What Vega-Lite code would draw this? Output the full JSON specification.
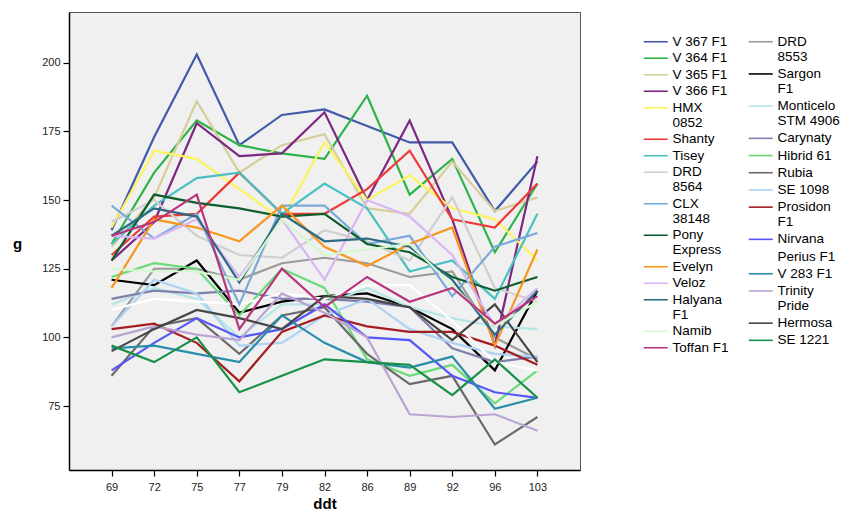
{
  "$schema": "https://vega.github.io/schema/vega-lite/v6.json",
  "width": 511,
  "height": 458,
  "autosize": "none",
  "padding": {"left": 69, "top": 12, "right": 273, "bottom": 44},
  "background": "white",
  "config": {
    "view": {"fill": "#F0F0F0", "stroke": "#555555", "strokeWidth": 1},
    "font": "Liberation Sans",
    "axis": {
      "domainColor": "black", "domainWidth": 1.5, "tickColor": "black", "tickWidth": 1.2, "tickSize": 6,
      "labelFont": "Liberation Sans", "labelFontSize": 11, "labelColor": "#222222",
      "titleFont": "Liberation Sans", "titleFontSize": 15, "titleFontWeight": "bold", "titleColor": "black",
      "grid": false
    },
    "legend": {
      "orient": "none", "title": null, "symbolType": "M -1 0 H 5", "symbolSize": 64, "symbolStrokeWidth": 1.6,
      "labelFont": "Liberation Sans", "labelFontSize": 13.5, "labelColor": "black", "labelLimit": 200,
      "labelOffset": 18, "rowPadding": 1.5, "padding": 0, "legendY": 23
    }
  },
  "data": {"values": [
    {"v":"V 367 F1","x":69,"g":139},{"v":"V 367 F1","x":72,"g":173},{"v":"V 367 F1","x":75,"g":203},{"v":"V 367 F1","x":77,"g":170},{"v":"V 367 F1","x":79,"g":181},{"v":"V 367 F1","x":82,"g":183},{"v":"V 367 F1","x":86,"g":177},{"v":"V 367 F1","x":89,"g":171},{"v":"V 367 F1","x":92,"g":171},{"v":"V 367 F1","x":96,"g":146},{"v":"V 367 F1","x":103,"g":164},
    {"v":"V 364 F1","x":69,"g":134},{"v":"V 364 F1","x":72,"g":160},{"v":"V 364 F1","x":75,"g":179},{"v":"V 364 F1","x":77,"g":170},{"v":"V 364 F1","x":79,"g":167},{"v":"V 364 F1","x":82,"g":165},{"v":"V 364 F1","x":86,"g":188},{"v":"V 364 F1","x":89,"g":152},{"v":"V 364 F1","x":92,"g":165},{"v":"V 364 F1","x":96,"g":131},{"v":"V 364 F1","x":103,"g":156},
    {"v":"V 365 F1","x":69,"g":133},{"v":"V 365 F1","x":72,"g":151},{"v":"V 365 F1","x":75,"g":186},{"v":"V 365 F1","x":77,"g":160},{"v":"V 365 F1","x":79,"g":170},{"v":"V 365 F1","x":82,"g":174},{"v":"V 365 F1","x":86,"g":147},{"v":"V 365 F1","x":89,"g":145},{"v":"V 365 F1","x":92,"g":164},{"v":"V 365 F1","x":96,"g":146},{"v":"V 365 F1","x":103,"g":151},
    {"v":"V 366 F1","x":69,"g":128},{"v":"V 366 F1","x":72,"g":142},{"v":"V 366 F1","x":75,"g":178},{"v":"V 366 F1","x":77,"g":166},{"v":"V 366 F1","x":79,"g":167},{"v":"V 366 F1","x":82,"g":182},{"v":"V 366 F1","x":86,"g":150},{"v":"V 366 F1","x":89,"g":179},{"v":"V 366 F1","x":92,"g":143},{"v":"V 366 F1","x":96,"g":97},{"v":"V 366 F1","x":103,"g":166},
    {"v":"HMX 0852","x":69,"g":140},{"v":"HMX 0852","x":72,"g":168},{"v":"HMX 0852","x":75,"g":165},{"v":"HMX 0852","x":77,"g":154},{"v":"HMX 0852","x":79,"g":143},{"v":"HMX 0852","x":82,"g":171},{"v":"HMX 0852","x":86,"g":150},{"v":"HMX 0852","x":89,"g":159},{"v":"HMX 0852","x":92,"g":147},{"v":"HMX 0852","x":96,"g":143},{"v":"HMX 0852","x":103,"g":128},
    {"v":"Shanty","x":69,"g":130},{"v":"Shanty","x":72,"g":144},{"v":"Shanty","x":75,"g":145},{"v":"Shanty","x":77,"g":160},{"v":"Shanty","x":79,"g":145},{"v":"Shanty","x":82,"g":145},{"v":"Shanty","x":86,"g":154},{"v":"Shanty","x":89,"g":168},{"v":"Shanty","x":92,"g":143},{"v":"Shanty","x":96,"g":140},{"v":"Shanty","x":103,"g":156},
    {"v":"Tisey","x":69,"g":134},{"v":"Tisey","x":72,"g":148},{"v":"Tisey","x":75,"g":158},{"v":"Tisey","x":77,"g":160},{"v":"Tisey","x":79,"g":145},{"v":"Tisey","x":82,"g":156},{"v":"Tisey","x":86,"g":147},{"v":"Tisey","x":89,"g":124},{"v":"Tisey","x":92,"g":128},{"v":"Tisey","x":96,"g":114},{"v":"Tisey","x":103,"g":145},
    {"v":"DRD 8564","x":69,"g":142},{"v":"DRD 8564","x":72,"g":150},{"v":"DRD 8564","x":75,"g":137},{"v":"DRD 8564","x":77,"g":130},{"v":"DRD 8564","x":79,"g":129},{"v":"DRD 8564","x":82,"g":139},{"v":"DRD 8564","x":86,"g":135},{"v":"DRD 8564","x":89,"g":128},{"v":"DRD 8564","x":92,"g":151},{"v":"DRD 8564","x":96,"g":118},{"v":"DRD 8564","x":103,"g":113},
    {"v":"CLX 38148","x":69,"g":148},{"v":"CLX 38148","x":72,"g":136},{"v":"CLX 38148","x":75,"g":145},{"v":"CLX 38148","x":77,"g":112},{"v":"CLX 38148","x":79,"g":148},{"v":"CLX 38148","x":82,"g":148},{"v":"CLX 38148","x":86,"g":134},{"v":"CLX 38148","x":89,"g":137},{"v":"CLX 38148","x":92,"g":115},{"v":"CLX 38148","x":96,"g":133},{"v":"CLX 38148","x":103,"g":138},
    {"v":"Pony Express","x":69,"g":128},{"v":"Pony Express","x":72,"g":152},{"v":"Pony Express","x":75,"g":149},{"v":"Pony Express","x":77,"g":147},{"v":"Pony Express","x":79,"g":144},{"v":"Pony Express","x":82,"g":145},{"v":"Pony Express","x":86,"g":134},{"v":"Pony Express","x":89,"g":131},{"v":"Pony Express","x":92,"g":122},{"v":"Pony Express","x":96,"g":117},{"v":"Pony Express","x":103,"g":122},
    {"v":"Evelyn","x":69,"g":118},{"v":"Evelyn","x":72,"g":143},{"v":"Evelyn","x":75,"g":140},{"v":"Evelyn","x":77,"g":135},{"v":"Evelyn","x":79,"g":148},{"v":"Evelyn","x":82,"g":133},{"v":"Evelyn","x":86,"g":126},{"v":"Evelyn","x":89,"g":134},{"v":"Evelyn","x":92,"g":140},{"v":"Evelyn","x":96,"g":97},{"v":"Evelyn","x":103,"g":132},
    {"v":"Veloz","x":69,"g":137},{"v":"Veloz","x":72,"g":136},{"v":"Veloz","x":75,"g":143},{"v":"Veloz","x":77,"g":122},{"v":"Veloz","x":79,"g":143},{"v":"Veloz","x":82,"g":121},{"v":"Veloz","x":86,"g":150},{"v":"Veloz","x":89,"g":144},{"v":"Veloz","x":92,"g":130},{"v":"Veloz","x":96,"g":104},{"v":"Veloz","x":103,"g":118},
    {"v":"Halyana F1","x":69,"g":137},{"v":"Halyana F1","x":72,"g":147},{"v":"Halyana F1","x":75,"g":144},{"v":"Halyana F1","x":77,"g":120},{"v":"Halyana F1","x":79,"g":145},{"v":"Halyana F1","x":82,"g":135},{"v":"Halyana F1","x":86,"g":136},{"v":"Halyana F1","x":89,"g":133},{"v":"Halyana F1","x":92,"g":121},{"v":"Halyana F1","x":96,"g":101},{"v":"Halyana F1","x":103,"g":117},
    {"v":"Namib","x":69,"g":125},{"v":"Namib","x":72,"g":124},{"v":"Namib","x":75,"g":124},{"v":"Namib","x":77,"g":121},{"v":"Namib","x":79,"g":143},{"v":"Namib","x":82,"g":130},{"v":"Namib","x":86,"g":132},{"v":"Namib","x":89,"g":134},{"v":"Namib","x":92,"g":119},{"v":"Namib","x":96,"g":104},{"v":"Namib","x":103,"g":113},
    {"v":"Toffan F1","x":69,"g":137},{"v":"Toffan F1","x":72,"g":142},{"v":"Toffan F1","x":75,"g":152},{"v":"Toffan F1","x":77,"g":103},{"v":"Toffan F1","x":79,"g":125},{"v":"Toffan F1","x":82,"g":111},{"v":"Toffan F1","x":86,"g":122},{"v":"Toffan F1","x":89,"g":113},{"v":"Toffan F1","x":92,"g":118},{"v":"Toffan F1","x":96,"g":105},{"v":"Toffan F1","x":103,"g":115},
    {"v":"DRD 8553","x":69,"g":104},{"v":"DRD 8553","x":72,"g":125},{"v":"DRD 8553","x":75,"g":125},{"v":"DRD 8553","x":77,"g":121},{"v":"DRD 8553","x":79,"g":127},{"v":"DRD 8553","x":82,"g":129},{"v":"DRD 8553","x":86,"g":127},{"v":"DRD 8553","x":89,"g":122},{"v":"DRD 8553","x":92,"g":124},{"v":"DRD 8553","x":96,"g":100},{"v":"DRD 8553","x":103,"g":92},
    {"v":"Sargon F1","x":69,"g":121},{"v":"Sargon F1","x":72,"g":119},{"v":"Sargon F1","x":75,"g":128},{"v":"Sargon F1","x":77,"g":109},{"v":"Sargon F1","x":79,"g":113},{"v":"Sargon F1","x":82,"g":115},{"v":"Sargon F1","x":86,"g":116},{"v":"Sargon F1","x":89,"g":111},{"v":"Sargon F1","x":92,"g":103},{"v":"Sargon F1","x":96,"g":88},{"v":"Sargon F1","x":103,"g":117},
    {"v":"Monticelo STM 4906","x":69,"g":112},{"v":"Monticelo STM 4906","x":72,"g":118},{"v":"Monticelo STM 4906","x":75,"g":114},{"v":"Monticelo STM 4906","x":77,"g":100},{"v":"Monticelo STM 4906","x":79,"g":112},{"v":"Monticelo STM 4906","x":82,"g":112},{"v":"Monticelo STM 4906","x":86,"g":118},{"v":"Monticelo STM 4906","x":89,"g":111},{"v":"Monticelo STM 4906","x":92,"g":107},{"v":"Monticelo STM 4906","x":96,"g":104},{"v":"Monticelo STM 4906","x":103,"g":103},
    {"v":"Carynaty","x":69,"g":114},{"v":"Carynaty","x":72,"g":117},{"v":"Carynaty","x":75,"g":116},{"v":"Carynaty","x":77,"g":117},{"v":"Carynaty","x":79,"g":114},{"v":"Carynaty","x":82,"g":114},{"v":"Carynaty","x":86,"g":113},{"v":"Carynaty","x":89,"g":111},{"v":"Carynaty","x":92,"g":96},{"v":"Carynaty","x":96,"g":91},{"v":"Carynaty","x":103,"g":93},
    {"v":"Hibrid 61","x":69,"g":122},{"v":"Hibrid 61","x":72,"g":127},{"v":"Hibrid 61","x":75,"g":125},{"v":"Hibrid 61","x":77,"g":108},{"v":"Hibrid 61","x":79,"g":125},{"v":"Hibrid 61","x":82,"g":118},{"v":"Hibrid 61","x":86,"g":92},{"v":"Hibrid 61","x":89,"g":86},{"v":"Hibrid 61","x":92,"g":90},{"v":"Hibrid 61","x":96,"g":76},{"v":"Hibrid 61","x":103,"g":88},
    {"v":"Rubia","x":69,"g":86},{"v":"Rubia","x":72,"g":104},{"v":"Rubia","x":75,"g":107},{"v":"Rubia","x":77,"g":94},{"v":"Rubia","x":79,"g":108},{"v":"Rubia","x":82,"g":111},{"v":"Rubia","x":86,"g":94},{"v":"Rubia","x":89,"g":83},{"v":"Rubia","x":92,"g":86},{"v":"Rubia","x":96,"g":61},{"v":"Rubia","x":103,"g":71},
    {"v":"SE 1098","x":69,"g":104},{"v":"SE 1098","x":72,"g":121},{"v":"SE 1098","x":75,"g":116},{"v":"SE 1098","x":77,"g":97},{"v":"SE 1098","x":79,"g":98},{"v":"SE 1098","x":82,"g":108},{"v":"SE 1098","x":86,"g":114},{"v":"SE 1098","x":89,"g":103},{"v":"SE 1098","x":92,"g":98},{"v":"SE 1098","x":96,"g":94},{"v":"SE 1098","x":103,"g":93},
    {"v":"Prosidon F1","x":69,"g":103},{"v":"Prosidon F1","x":72,"g":105},{"v":"Prosidon F1","x":75,"g":98},{"v":"Prosidon F1","x":77,"g":84},{"v":"Prosidon F1","x":79,"g":102},{"v":"Prosidon F1","x":82,"g":108},{"v":"Prosidon F1","x":86,"g":104},{"v":"Prosidon F1","x":89,"g":102},{"v":"Prosidon F1","x":92,"g":102},{"v":"Prosidon F1","x":96,"g":97},{"v":"Prosidon F1","x":103,"g":90},
    {"v":"Nirvana","x":69,"g":88},{"v":"Nirvana","x":72,"g":98},{"v":"Nirvana","x":75,"g":107},{"v":"Nirvana","x":77,"g":100},{"v":"Nirvana","x":79,"g":103},{"v":"Nirvana","x":82,"g":112},{"v":"Nirvana","x":86,"g":100},{"v":"Nirvana","x":89,"g":99},{"v":"Nirvana","x":92,"g":86},{"v":"Nirvana","x":96,"g":80},{"v":"Nirvana","x":103,"g":78},
    {"v":"Perius F1","x":69,"g":110},{"v":"Perius F1","x":72,"g":114},{"v":"Perius F1","x":75,"g":113},{"v":"Perius F1","x":77,"g":112},{"v":"Perius F1","x":79,"g":116},{"v":"Perius F1","x":82,"g":114},{"v":"Perius F1","x":86,"g":119},{"v":"Perius F1","x":89,"g":119},{"v":"Perius F1","x":92,"g":106},{"v":"Perius F1","x":96,"g":91},{"v":"Perius F1","x":103,"g":88},
    {"v":"V 283 F1","x":69,"g":96},{"v":"V 283 F1","x":72,"g":97},{"v":"V 283 F1","x":75,"g":94},{"v":"V 283 F1","x":77,"g":91},{"v":"V 283 F1","x":79,"g":108},{"v":"V 283 F1","x":82,"g":98},{"v":"V 283 F1","x":86,"g":91},{"v":"V 283 F1","x":89,"g":89},{"v":"V 283 F1","x":92,"g":93},{"v":"V 283 F1","x":96,"g":74},{"v":"V 283 F1","x":103,"g":78},
    {"v":"Trinity Pride","x":69,"g":100},{"v":"Trinity Pride","x":72,"g":104},{"v":"Trinity Pride","x":75,"g":101},{"v":"Trinity Pride","x":77,"g":99},{"v":"Trinity Pride","x":79,"g":116},{"v":"Trinity Pride","x":82,"g":109},{"v":"Trinity Pride","x":86,"g":100},{"v":"Trinity Pride","x":89,"g":72},{"v":"Trinity Pride","x":92,"g":71},{"v":"Trinity Pride","x":96,"g":72},{"v":"Trinity Pride","x":103,"g":66},
    {"v":"Hermosa","x":69,"g":95},{"v":"Hermosa","x":72,"g":103},{"v":"Hermosa","x":75,"g":110},{"v":"Hermosa","x":77,"g":107},{"v":"Hermosa","x":79,"g":103},{"v":"Hermosa","x":82,"g":115},{"v":"Hermosa","x":86,"g":114},{"v":"Hermosa","x":89,"g":111},{"v":"Hermosa","x":92,"g":99},{"v":"Hermosa","x":96,"g":112},{"v":"Hermosa","x":103,"g":91},
    {"v":"SE 1221","x":69,"g":97},{"v":"SE 1221","x":72,"g":91},{"v":"SE 1221","x":75,"g":100},{"v":"SE 1221","x":77,"g":80},{"v":"SE 1221","x":79,"g":86},{"v":"SE 1221","x":82,"g":92},{"v":"SE 1221","x":86,"g":91},{"v":"SE 1221","x":89,"g":90},{"v":"SE 1221","x":92,"g":79},{"v":"SE 1221","x":96,"g":92},{"v":"SE 1221","x":103,"g":78}
  ]},
  "encoding": {
    "x": {"field": "x", "type": "ordinal", "sort": "ascending",
      "scale": {"type": "point", "padding": 1.16},
      "axis": {"title": "ddt", "labelAngle": 0, "labelPadding": 5, "titlePadding": 4}},
    "y": {"field": "g", "type": "quantitative",
      "scale": {"domain": [51.7, 218.5], "nice": false, "zero": false},
      "axis": {"title": "g", "values": [75, 100, 125, 150, 175, 200], "labelPadding": 3,
        "titleAngle": 0, "titleX": -52, "titleY": 231, "titleAlign": "center", "titleBaseline": "middle"}}
  },
  "layer": [
    {
      "transform": [{"filter": {"field": "v", "oneOf": ["DRD 8553","Sargon F1","Monticelo STM 4906","Carynaty","Hibrid 61","Rubia","SE 1098","Prosidon F1","Nirvana","Perius F1","V 283 F1","Trinity Pride","Hermosa","SE 1221"]}}],
      "mark": {"type": "line", "strokeWidth": 2.2},
      "encoding": {
        "color": {"field": "v", "type": "nominal",
          "scale": {"domain": ["DRD 8553","Sargon F1","Monticelo STM 4906","Carynaty","Hibrid 61","Rubia","SE 1098","Prosidon F1","Nirvana","Perius F1","V 283 F1","Trinity Pride","Hermosa","SE 1221"],
            "range": ["#9B9B9B","#000000","#B5E6E6","#7F7FAE","#6BDB78","#6A6A6A","#ADD2F2","#A51D20","#5656FA","#FFFFFF","#2A8DAA","#BBA3D3","#454545","#179147"]},
          "legend": {"legendX": 677, "rowPadding": 2.2,
            "encode": {"labels": {"update": {"lineHeight": {"value": 15}}}},
            "labelExpr": "datum.label == 'Monticelo STM 4906' ? ['Monticelo', 'STM 4906'] : (indexof(['DRD 8553','Sargon F1','Prosidon F1','Trinity Pride'], datum.label) >= 0 ? split(datum.label, ' ') : datum.label)"}}
      }
    },
    {
      "transform": [{"filter": {"field": "v", "oneOf": ["V 367 F1","V 364 F1","V 365 F1","V 366 F1","HMX 0852","Shanty","Tisey","DRD 8564","CLX 38148","Pony Express","Evelyn","Veloz","Halyana F1","Namib","Toffan F1"]}}],
      "mark": {"type": "line", "strokeWidth": 2.2},
      "encoding": {
        "color": {"field": "v", "type": "nominal",
          "scale": {"domain": ["V 367 F1","V 364 F1","V 365 F1","V 366 F1","HMX 0852","Shanty","Tisey","DRD 8564","CLX 38148","Pony Express","Evelyn","Veloz","Halyana F1","Namib","Toffan F1"],
            "range": ["#3F5BA9","#2DB34A","#D5CE9B","#7D2682","#FDF45C","#EE3A3A","#49C0C2","#CFCFCF","#7BA9D9","#0D5E2C","#F8961F","#D9B6F2","#2E6A84","#D4F8CF","#B8357C"]},
          "legend": {"legendX": 572,
            "encode": {"labels": {"update": {"lineHeight": {"value": 15}}}},
            "labelExpr": "indexof(['HMX 0852','DRD 8564','CLX 38148','Pony Express','Halyana F1'], datum.label) >= 0 ? split(datum.label, ' ') : datum.label"}}
      }
    }
  ],
  "resolve": {"scale": {"color": "independent"}, "legend": {"color": "independent"}}
}
